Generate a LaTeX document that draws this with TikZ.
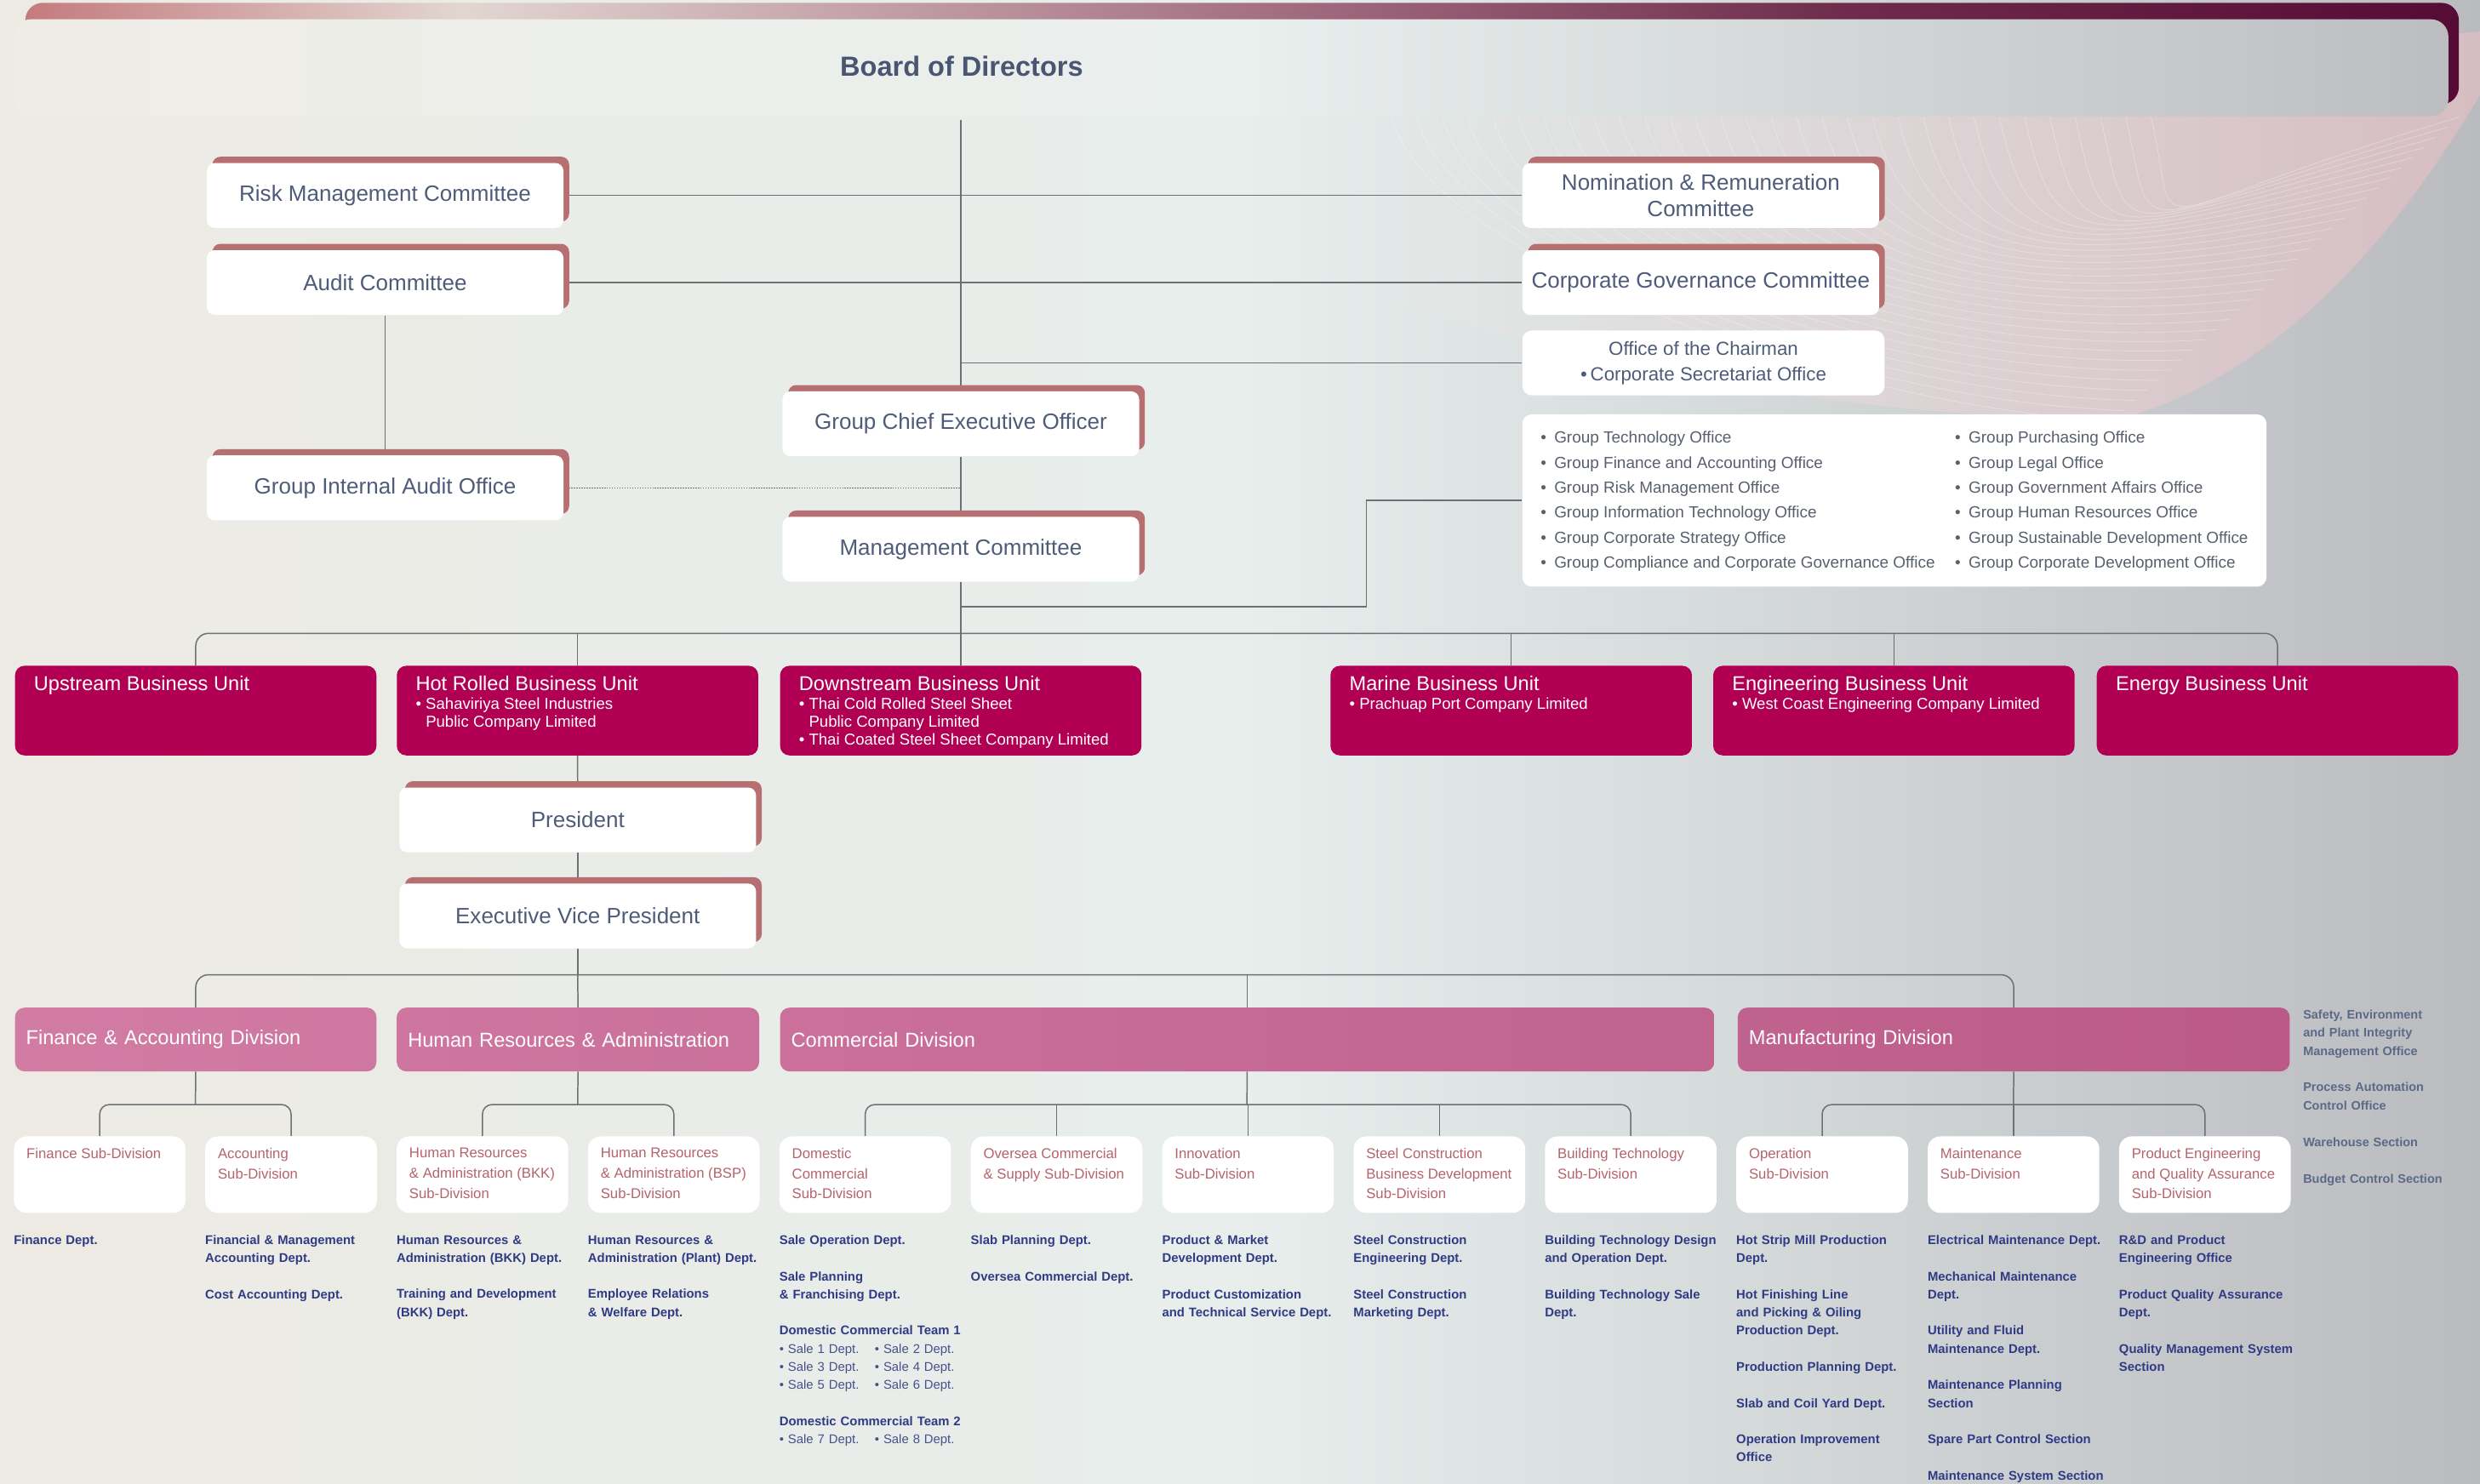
\documentclass[tikz,border=0pt]{standalone}
\usepackage{fontspec}
\setmainfont{Liberation Sans}
\usetikzlibrary{shadows}

\definecolor{bgleft}{HTML}{EDEAE3}
\definecolor{bgmid}{HTML}{E7EEEC}
\definecolor{bgright}{HTML}{BABBBF}
\definecolor{bandA}{HTML}{C47B7E}
\definecolor{bandB}{HTML}{E2D6D1}
\definecolor{bandC}{HTML}{C8A9AE}
\definecolor{bandD}{HTML}{A46F82}
\definecolor{bandE}{HTML}{6E2B4B}
\definecolor{bandF}{HTML}{560B35}
\definecolor{swpink}{HTML}{D6BDC2}
\definecolor{swfade}{HTML}{E2E8E7}
\definecolor{linegray}{HTML}{6C7075}
\definecolor{boardslate}{HTML}{4A5572}
\definecolor{slate}{HTML}{4E5C79}
\definecolor{officegray}{HTML}{585F6D}
\definecolor{tabred}{HTML}{B77072}
\definecolor{burgundy}{HTML}{B10053}
\definecolor{divA}{HTML}{D27CA4}
\definecolor{divB}{HTML}{BB5A88}
\definecolor{subred}{HTML}{B5636C}
\definecolor{navy}{HTML}{2F3B84}
\definecolor{salenavy}{HTML}{46508A}
\definecolor{sideslate}{HTML}{5A6A87}

\pgfdeclarehorizontalshading{topband}{100bp}{color(0bp)=(bandA); color(25bp)=(bandA); color(34bp)=(bandB); color(41bp)=(bandC); color(50.5bp)=(bandD); color(62.5bp)=(bandE); color(75bp)=(bandF); color(100bp)=(bandF)}

\pgfdeclarelayer{back}
\pgfdeclarelayer{links}
\pgfsetlayers{back,links,main}

\newcommand\bul{\textbullet\ }
\newcommand\bulind{\hphantom{\textbullet\ }}
\newcommand\grp{\textbullet\hspace{5pt}Group }
\newcommand\gap{\\[\baselineskip]}
\newcommand\butitle[1]{{\fontsize{12.7}{14}\selectfont #1\par}\fontsize{10}{11.5}\selectfont}
\newcommand\unittext[1]{\parbox[t][43.5pt][t]{204.5pt}{\raggedright #1}}
\newcommand\subtext[1]{\parbox[t][33.6pt][t]{92.5pt}{\raggedright #1}}
\newcommand\sale[2]{{\mdseries\color{salenavy}\makebox[60.3pt][l]{\bul Sale #1 Dept.}\bul Sale #2 Dept.}}

\begin{document}
\begin{tikzpicture} [x=1pt, y=-1pt,
  conn/.style={draw=linegray, line width=0.8pt},
  tabbox/.style={fill=white, rounded corners=5pt, minimum width=225.5pt, minimum height=41pt, inner sep=0pt, align=center, text=slate, font=\fontsize{14}{17}\selectfont, general shadow={fill=tabred, shadow xshift=3.6pt, shadow yshift=4pt}},
  whitebox/.style={fill=white, rounded corners=6pt, inner sep=0pt, text=slate},
  unitbox/.style={anchor=north west, fill=burgundy, rounded corners=6pt, inner xsep=12pt, inner ysep=6.6pt, text=white},
  divbox/.style={anchor=north west, rounded corners=6pt, minimum height=40.3pt, inner xsep=7pt, align=left, text=white, font=\fontsize{12.7}{15}\selectfont},
  subbox/.style={anchor=north west, fill=white, rounded corners=8pt, inner xsep=8pt, inner ysep=7.4pt, text=subred, font=\fontsize{9}{12.8}\selectfont},
  deptlist/.style={anchor=north west, inner sep=0pt, text width=118pt, align=left, text=navy, font=\fontsize{8}{11.45}\selectfont\bfseries}]
\useasboundingbox (0,0) rectangle (1568,938);

\begin{pgfonlayer}{back}
\shade[left color=bgleft, right color=bgright, middle color=bgmid] (0,0) rectangle (1568,938);
\begin{scope}
\clip (880,74) -- (1568,20) -- (1568,60) .. controls (1500,175) and (1420,245) .. (1336,266) .. controls (1150,262) and (1000,230) .. (880,190) -- cycle;
\shade[left color=swfade, right color=swpink] (880,20) rectangle (1568,270);
\foreach \k in {0,...,30}
  \draw[white, opacity=0.28, line width=0.5pt] (880+16*\k,74) .. controls (900+16*\k,160) and (1160+6*\k,258-4*\k) .. (1336+7.3*\k,266-6.4*\k);
\end{scope}
\shade[shading=topband, rounded corners=11pt] (16,1.8) rectangle (1554.6,66);
\shade[left color=bgleft!90!white, right color=bgright!97!white, middle color=bgmid!90!white, rounded corners=11pt] (8.6,12.2) rectangle (1548,73.5);
\end{pgfonlayer}

\node[font=\fontsize{17.5}{20}\selectfont\bfseries, text=boardslate](board) at (608,42){Board of Directors};

\node[tabbox](risk) at (243.5,123.6){Risk Management Committee};
\node[tabbox](audit) at (243.5,178.7){Audit Committee};
\node[tabbox](giao) at (243.5,308.5){Group Internal Audit Office};
\node[tabbox](gceo) at (607.5,268){Group Chief Executive Officer};
\node[tabbox](mc) at (607.5,347.3){Management Committee};
\node[tabbox](nomin) at (1075.3,123.6){Nomination \& Remuneration\\Committee};
\node[tabbox](cgc) at (1075.3,178.7){Corporate Governance Committee};
\node[whitebox, minimum width=229pt, minimum height=41pt, align=center, font=\fontsize{12}{16}\selectfont](chair) at (1077,229.5){Office of the Chairman\\\textbullet\,Corporate Secretariat Office};
\node[whitebox, minimum width=470.5pt, minimum height=109pt, text=officegray, font=\fontsize{10.2}{15.8}\selectfont](groupoff) at (1197.75,316.5){\begin{tabular}{@{\hspace{3pt}}p{262pt}@{}l@{\hspace{3pt}}}
\grp Technology Office & \grp Purchasing Office\\
\grp Finance and Accounting Office & \grp Legal Office\\
\grp Risk Management Office & \grp Government Affairs Office\\
\grp Information Technology Office & \grp Human Resources Office\\
\grp Corporate Strategy Office & \grp Sustainable Development Office\\
\grp Compliance and Corporate Governance Office & \grp Corporate Development Office
\end{tabular}};

\node[unitbox](upstream) at (9.3,420.8){\unittext{\butitle{Upstream Business Unit}}};
\node[unitbox](hotrolled) at (250.7,420.8){\unittext{\butitle{Hot Rolled Business Unit}\bul Sahaviriya Steel Industries\\\bulind Public Company Limited}};
\node[unitbox](downstream) at (493,420.8){\unittext{\butitle{Downstream Business Unit}\bul Thai Cold Rolled Steel Sheet\\\bulind Public Company Limited\\\bul Thai Coated Steel Sheet Company Limited}};
\node[unitbox](marine) at (841,420.8){\unittext{\butitle{Marine Business Unit}\bul Prachuap Port Company Limited}};
\node[unitbox](engbu) at (1083,420.8){\unittext{\butitle{Engineering Business Unit}\bul West Coast Engineering Company Limited}};
\node[unitbox](energy) at (1325.5,420.8){\unittext{\butitle{Energy Business Unit}}};

\node[tabbox](pres) at (365.25,518.5){President};
\node[tabbox](evp) at (365.25,579.2){Executive Vice President};

\node[divbox, text width=214.5pt, left color=divA!99!divB, right color=divA!84!divB](findiv) at (9.3,637){Finance \& Accounting Division};
\node[divbox, text width=215.1pt, left color=divA!83!divB, right color=divA!67!divB](hrdiv) at (250.7,637){Human Resources \& Administration};
\node[divbox, text width=576.7pt, left color=divA!66!divB, right color=divA!25!divB](comdiv) at (493,637){Commercial Division};
\node[divbox, text width=335pt, left color=divA!24!divB, right color=divB](mfgdiv) at (1098.5,637){Manufacturing Division};

\node[subbox](fsub) at (8.6,718.4){\subtext{Finance Sub-Division}};
\node[subbox](asub) at (129.6,718.4){\subtext{Accounting\\Sub-Division}};
\node[subbox](hrbkk) at (250.6,718.4){\subtext{Human Resources\\\& Administration (BKK)\\Sub-Division}};
\node[subbox](hrbsp) at (371.6,718.4){\subtext{Human Resources\\\& Administration (BSP)\\Sub-Division}};
\node[subbox](domsub) at (492.6,718.4){\subtext{Domestic\\Commercial\\Sub-Division}};
\node[subbox](ovsub) at (613.6,718.4){\subtext{Oversea Commercial\\\& Supply Sub-Division}};
\node[subbox](innsub) at (734.6,718.4){\subtext{Innovation\\Sub-Division}};
\node[subbox](scsub) at (855.6,718.4){\subtext{Steel Construction\\Business Development\\Sub-Division}};
\node[subbox](btsub) at (976.6,718.4){\subtext{Building Technology\\Sub-Division}};
\node[subbox](opsub) at (1097.6,718.4){\subtext{Operation\\Sub-Division}};
\node[subbox](mtsub) at (1218.6,718.4){\subtext{Maintenance\\Sub-Division}};
\node[subbox](pesub) at (1339.6,718.4){\subtext{Product Engineering\\and Quality Assurance\\Sub-Division}};

\node[deptlist](fdept) at (8.6,781){Finance Dept.};
\node[deptlist](adept) at (129.6,781){Financial \& Management\\Accounting Dept.\gap Cost Accounting Dept.};
\node[deptlist](bkkdept) at (250.6,781){Human Resources \&\\Administration (BKK) Dept.\gap Training and Development\\(BKK) Dept.};
\node[deptlist](bspdept) at (371.6,781){Human Resources \&\\Administration (Plant) Dept.\gap Employee Relations\\\& Welfare Dept.};
\node[deptlist](domdept) at (492.6,781){Sale Operation Dept.\gap Sale Planning\\\& Franchising Dept.\gap Domestic Commercial Team 1\\\sale{1}{2}\\\sale{3}{4}\\\sale{5}{6}\gap Domestic Commercial Team 2\\\sale{7}{8}};
\node[deptlist](ovdept) at (613.6,781){Slab Planning Dept.\gap Oversea Commercial Dept.};
\node[deptlist](inndept) at (734.6,781){Product \& Market\\Development Dept.\gap Product Customization\\and Technical Service Dept.};
\node[deptlist](scdept) at (855.6,781){Steel Construction\\Engineering Dept.\gap Steel Construction\\Marketing Dept.};
\node[deptlist](btdept) at (976.6,781){Building Technology Design\\and Operation Dept.\gap Building Technology Sale\\Dept.};
\node[deptlist](opdept) at (1097.6,781){Hot Strip Mill Production\\Dept.\gap Hot Finishing Line\\and Picking \& Oiling\\Production Dept.\gap Production Planning Dept.\gap Slab and Coil Yard Dept.\gap Operation Improvement\\Office};
\node[deptlist](mtdept) at (1218.6,781){Electrical Maintenance Dept.\gap Mechanical Maintenance\\Dept.\gap Utility and Fluid\\Maintenance Dept.\gap Maintenance Planning\\Section\gap Spare Part Control Section\gap Maintenance System Section};
\node[deptlist](pedept) at (1339.6,781){R\&D and Product\\Engineering Office\gap Product Quality Assurance\\Dept.\gap Quality Management System\\Section};
\node[deptlist, text=sideslate, font=\fontsize{7.8}{11.55}\selectfont\bfseries](mfgside) at (1456,638.3){Safety, Environment\\and Plant Integrity\\Management Office\gap Process Automation\\Control Office\gap Warehouse Section\gap Budget Control Section};

\coordinate (trunktop) at (607.5,76);
\coordinate (offjoint) at (607.5,383.7);
\coordinate (bubus) at (607.5,400.5);
\coordinate (divbus) at (365.25,616.4);
\coordinate (finbus) at (123.55,698.5);
\coordinate (hrbus) at (365.25,698.5);
\coordinate (combus) at (788.35,698.5);
\coordinate (mfgbus) at (1273,698.5);

\begin{pgfonlayer}{links}
\draw[conn] (trunktop) -- (gceo.north);
\draw[conn] (gceo.south) -- (mc.north);
\draw[conn] (mc.south) -- (bubus);
\draw[conn] (risk.east) -- (nomin.west);
\draw[conn] (audit.east) -- (cgc.west);
\draw[conn] (trunktop |- chair.west) -- (chair.west);
\draw[conn] (audit.south) -- (giao.north);
\draw[conn, line width=0.7pt, dash pattern=on 0.8pt off 0.8pt] (giao.east) -- (giao.east -| trunktop);
\draw[conn] (offjoint) -| ([xshift=-98.5pt]groupoff.west) -- (groupoff.west);
\draw[conn, rounded corners=8pt] (upstream.north) |- (bubus) -| (energy.north);
\draw[conn] (hotrolled.north) -- (hotrolled.north |- bubus);
\draw[conn] (downstream.north) -- (downstream.north |- bubus);
\draw[conn] (marine.north) -- (marine.north |- bubus);
\draw[conn] (engbu.north) -- (engbu.north |- bubus);
\draw[conn] (hotrolled.south) -- (pres.north);
\draw[conn] (pres.south) -- (evp.north);
\draw[conn] (evp.south) -- (divbus);
\draw[conn, rounded corners=8pt] (findiv.north) |- (divbus) -| (mfgdiv.north);
\draw[conn] (hrdiv.north) -- (divbus);
\draw[conn] (comdiv.north) -- (comdiv.north |- divbus);
\draw[conn] (findiv.south) -- (finbus);
\draw[conn, rounded corners=6pt] (fsub.north) |- (finbus) -| (asub.north);
\draw[conn] (hrdiv.south) -- (hrbus);
\draw[conn, rounded corners=6pt] (hrbkk.north) |- (hrbus) -| (hrbsp.north);
\draw[conn] (comdiv.south) -- (combus);
\draw[conn, rounded corners=6pt] (domsub.north) |- (combus) -| (btsub.north);
\draw[conn] (ovsub.north) -- (ovsub.north |- combus);
\draw[conn] (innsub.north) -- (innsub.north |- combus);
\draw[conn] (scsub.north) -- (scsub.north |- combus);
\draw[conn] (mfgdiv.south) -- (mfgbus);
\draw[conn, rounded corners=6pt] (opsub.north) |- (mfgbus) -| (pesub.north);
\draw[conn] (mtsub.north) -- (mtsub.north |- mfgbus);
\end{pgfonlayer}
\end{tikzpicture}
\end{document}
